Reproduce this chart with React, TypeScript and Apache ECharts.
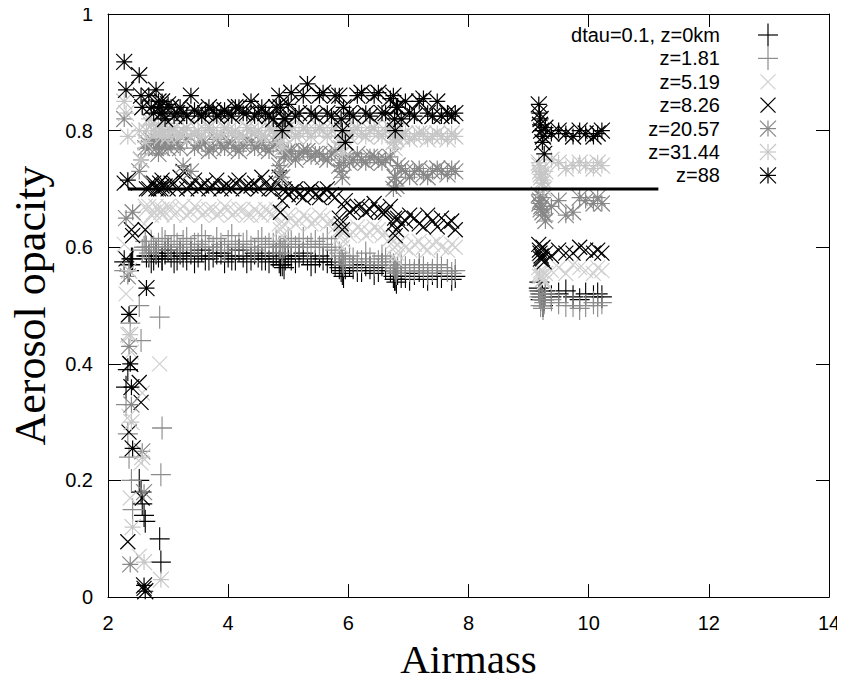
import React, { useEffect, useRef } from "react";
import * as echarts from "echarts";

// Shared airmass of each observation: low-airmass group, first main run, late group,
// second main run, second late group
const airmass = [
  2.27, 2.30, 2.33, 2.35, 2.37, 2.39, 2.41, 2.52, 2.55, 2.57, 2.60, 2.62, 2.64, 2.86, 2.88, 2.90,
  2.68, 2.76, 2.84, 2.95, 3.05, 3.15, 3.25, 3.38, 3.50, 3.62, 3.75, 3.88, 4.00, 4.12, 4.25,
  4.38, 4.50, 4.62, 4.75, 4.85, 4.90, 4.95, 5.05, 5.18, 5.32, 5.45, 5.58, 5.72, 5.85, 5.90,
  5.95, 6.08, 6.22, 6.36, 6.50, 6.62, 6.75, 6.78, 6.82, 6.95, 7.10, 7.25, 7.40, 7.55, 7.78,
  9.17, 9.19, 9.21, 9.23, 9.26, 9.50, 9.74, 9.95, 10.22,
  2.72, 2.80, 2.90, 3.00, 3.10, 3.20, 3.31, 3.44, 3.56, 3.68, 3.81, 3.94, 4.06, 4.18, 4.31,
  4.44, 4.56, 4.68, 4.80, 4.87, 4.93, 5.00, 5.12, 5.25, 5.38, 5.52, 5.65, 5.78, 5.88, 5.92,
  6.02, 6.15, 6.29, 6.43, 6.56, 6.70, 6.77, 6.80, 6.88, 7.02, 7.18, 7.32, 7.48, 7.65, 7.72,
  9.18, 9.20, 9.24, 9.28, 9.38, 9.62, 9.85, 10.08, 10.15,
];

const tauZ0 = [
  0.575, 0.36, 0.39, 0.56, 0.57, 0.58, 0.58, 0.20, 0.18, 0.16, 0.14, 0.13, 0.585, 0.10, 0.06, 0.58,
  0.585, 0.58, 0.585, 0.59, 0.585, 0.58, 0.585, 0.59, 0.585, 0.58, 0.585, 0.59, 0.585, 0.58, 0.585,
  0.58, 0.585, 0.58, 0.585, 0.575, 0.57, 0.58, 0.58, 0.585, 0.58, 0.575, 0.58, 0.575, 0.565, 0.555,
  0.565, 0.565, 0.56, 0.565, 0.56, 0.565, 0.55, 0.545, 0.555, 0.55, 0.555, 0.55, 0.555, 0.55, 0.55,
  0.53, 0.525, 0.52, 0.515, 0.51, 0.52, 0.515, 0.52, 0.515,
  0.575, 0.59, 0.58, 0.595, 0.575, 0.59, 0.58, 0.575, 0.595, 0.58, 0.59, 0.575, 0.58, 0.595, 0.575,
  0.59, 0.58, 0.575, 0.59, 0.57, 0.565, 0.585, 0.575, 0.59, 0.57, 0.585, 0.575, 0.57, 0.56, 0.55,
  0.57, 0.56, 0.57, 0.555, 0.57, 0.56, 0.545, 0.54, 0.55, 0.545, 0.56, 0.545, 0.55, 0.56, 0.545,
  0.54, 0.51, 0.50, 0.525, 0.515, 0.525, 0.51, 0.515, 0.52,
];
const tauZ181 = [
  0.56, 0.33, 0.28, 0.24, 0.47, 0.20, 0.15, 0.50, 0.44, 0.595, 0.60, 0.61, 0.60, 0.48, 0.21, 0.29,
  0.59, 0.60, 0.605, 0.61, 0.60, 0.605, 0.61, 0.60, 0.605, 0.61, 0.60, 0.605, 0.61, 0.60, 0.605,
  0.60, 0.61, 0.60, 0.605, 0.60, 0.59, 0.605, 0.61, 0.605, 0.60, 0.61, 0.605, 0.60, 0.59, 0.575,
  0.58, 0.58, 0.575, 0.58, 0.575, 0.58, 0.57, 0.56, 0.565, 0.565, 0.56, 0.565, 0.56, 0.565, 0.56,
  0.525, 0.52, 0.515, 0.51, 0.505, 0.505, 0.50, 0.50, 0.505,
  0.61, 0.595, 0.615, 0.60, 0.62, 0.595, 0.615, 0.605, 0.62, 0.60, 0.615, 0.595, 0.62, 0.605, 0.61,
  0.595, 0.615, 0.605, 0.61, 0.60, 0.60, 0.615, 0.60, 0.615, 0.605, 0.60, 0.615, 0.595, 0.585, 0.57,
  0.585, 0.575, 0.59, 0.57, 0.585, 0.575, 0.565, 0.555, 0.57, 0.56, 0.57, 0.555, 0.57, 0.56, 0.555,
  0.515, 0.50, 0.495, 0.52, 0.51, 0.50, 0.495, 0.505, 0.50,
];
const tauZ519 = [
  0.605, 0.52, 0.45, 0.31, 0.17, 0.42, 0.66, 0.07, 0.23, 0.35, 0.64, 0.67, 0.665, 0.40, 0.66, 0.665,
  0.67, 0.66, 0.665, 0.66, 0.665, 0.66, 0.67, 0.66, 0.665, 0.66, 0.665, 0.66, 0.665, 0.66, 0.665,
  0.655, 0.66, 0.665, 0.655, 0.64, 0.62, 0.65, 0.65, 0.645, 0.65, 0.645, 0.65, 0.645, 0.63, 0.60,
  0.63, 0.625, 0.63, 0.625, 0.63, 0.625, 0.61, 0.58, 0.605, 0.60, 0.605, 0.60, 0.605, 0.60, 0.60,
  0.565, 0.555, 0.55, 0.545, 0.54, 0.565, 0.57, 0.56, 0.56,
  0.655, 0.67, 0.655, 0.67, 0.655, 0.665, 0.655, 0.67, 0.655, 0.665, 0.655, 0.67, 0.655, 0.665, 0.655,
  0.665, 0.655, 0.66, 0.665, 0.63, 0.64, 0.655, 0.64, 0.655, 0.64, 0.655, 0.64, 0.635, 0.62, 0.61,
  0.62, 0.635, 0.62, 0.635, 0.62, 0.615, 0.60, 0.59, 0.61, 0.595, 0.61, 0.595, 0.61, 0.595, 0.605,
  0.55, 0.56, 0.545, 0.555, 0.56, 0.555, 0.565, 0.555, 0.565,
];
const tauZ826 = [
  0.71, 0.58, 0.095, 0.283, 0.40, 0.63, 0.62, 0.368, 0.334, 0.17, 0.015, 0.63, 0.70, 0.71, 0.70, 0.705,
  0.70, 0.71, 0.70, 0.705, 0.71, 0.70, 0.73, 0.705, 0.70, 0.71, 0.705, 0.70, 0.705, 0.71, 0.70,
  0.705, 0.70, 0.71, 0.70, 0.72, 0.68, 0.695, 0.695, 0.69, 0.695, 0.69, 0.695, 0.69, 0.65, 0.63,
  0.68, 0.665, 0.67, 0.665, 0.665, 0.66, 0.64, 0.62, 0.65, 0.645, 0.65, 0.635, 0.645, 0.65, 0.63,
  0.605, 0.59, 0.585, 0.58, 0.575, 0.595, 0.59, 0.595, 0.59,
  0.71, 0.70, 0.715, 0.70, 0.71, 0.72, 0.70, 0.715, 0.705, 0.70, 0.715, 0.705, 0.70, 0.715, 0.705,
  0.71, 0.72, 0.70, 0.71, 0.66, 0.70, 0.69, 0.70, 0.685, 0.70, 0.685, 0.70, 0.685, 0.64, 0.67,
  0.66, 0.67, 0.66, 0.675, 0.66, 0.67, 0.65, 0.63, 0.64, 0.655, 0.64, 0.655, 0.635, 0.64, 0.645,
  0.595, 0.58, 0.60, 0.59, 0.585, 0.59, 0.60, 0.59, 0.595,
];
const tauZ2057 = [
  0.82, 0.65, 0.55, 0.43, 0.056, 0.33, 0.66, 0.73, 0.75, 0.25, 0.18, 0.77, 0.78, 0.78, 0.79, 0.77,
  0.77, 0.78, 0.76, 0.78, 0.775, 0.78, 0.74, 0.73, 0.775, 0.78, 0.77, 0.775, 0.78, 0.77, 0.775,
  0.78, 0.775, 0.77, 0.775, 0.74, 0.72, 0.76, 0.765, 0.76, 0.765, 0.76, 0.755, 0.76, 0.74, 0.72,
  0.755, 0.75, 0.75, 0.755, 0.75, 0.75, 0.70, 0.72, 0.74, 0.73, 0.73, 0.725, 0.73, 0.73, 0.73,
  0.69, 0.68, 0.67, 0.66, 0.655, 0.68, 0.66, 0.68, 0.675,
  0.785, 0.77, 0.785, 0.77, 0.78, 0.77, 0.785, 0.77, 0.78, 0.765, 0.785, 0.77, 0.78, 0.765, 0.785,
  0.77, 0.78, 0.765, 0.78, 0.73, 0.755, 0.765, 0.75, 0.765, 0.755, 0.76, 0.75, 0.765, 0.73, 0.745,
  0.745, 0.76, 0.745, 0.755, 0.745, 0.755, 0.72, 0.705, 0.735, 0.72, 0.735, 0.72, 0.735, 0.725, 0.735,
  0.675, 0.665, 0.685, 0.645, 0.67, 0.655, 0.685, 0.675, 0.685,
];
const tauZ3144 = [
  0.85, 0.83, 0.79, 0.56, 0.45, 0.30, 0.12, 0.80, 0.75, 0.24, 0.06, 0.78, 0.80, 0.80, 0.03, 0.79,
  0.82, 0.80, 0.81, 0.80, 0.80, 0.795, 0.80, 0.79, 0.80, 0.80, 0.80, 0.795, 0.80, 0.80, 0.79,
  0.80, 0.80, 0.79, 0.80, 0.80, 0.77, 0.80, 0.80, 0.795, 0.80, 0.80, 0.80, 0.80, 0.78, 0.76,
  0.80, 0.80, 0.795, 0.80, 0.795, 0.80, 0.78, 0.79, 0.80, 0.795, 0.79, 0.795, 0.79, 0.79, 0.79,
  0.745, 0.73, 0.72, 0.71, 0.70, 0.745, 0.74, 0.74, 0.74,
  0.81, 0.795, 0.80, 0.79, 0.805, 0.79, 0.805, 0.795, 0.79, 0.805, 0.79, 0.805, 0.795, 0.79, 0.805,
  0.795, 0.79, 0.805, 0.795, 0.78, 0.79, 0.805, 0.79, 0.805, 0.79, 0.805, 0.79, 0.805, 0.77, 0.79,
  0.79, 0.805, 0.79, 0.805, 0.79, 0.805, 0.77, 0.785, 0.79, 0.785, 0.795, 0.785, 0.795, 0.785, 0.795,
  0.74, 0.725, 0.715, 0.73, 0.75, 0.735, 0.745, 0.735, 0.745,
];
const tauZ88 = [
  0.918, 0.87, 0.715, 0.485, 0.40, 0.36, 0.255, 0.895, 0.86, 0.84, 0.02, 0.01, 0.53, 0.84, 0.83, 0.85,
  0.86, 0.83, 0.85, 0.82, 0.84, 0.83, 0.83, 0.86, 0.83, 0.83, 0.835, 0.83, 0.83, 0.84, 0.83,
  0.85, 0.83, 0.83, 0.82, 0.86, 0.80, 0.82, 0.865, 0.83, 0.88, 0.825, 0.865, 0.825, 0.86, 0.80,
  0.78, 0.825, 0.865, 0.825, 0.865, 0.83, 0.86, 0.80, 0.84, 0.85, 0.825, 0.855, 0.825, 0.825, 0.83,
  0.845, 0.81, 0.80, 0.78, 0.76, 0.80, 0.79, 0.795, 0.80,
  0.84, 0.87, 0.83, 0.845, 0.825, 0.84, 0.825, 0.835, 0.825, 0.84, 0.825, 0.835, 0.825, 0.84, 0.83,
  0.825, 0.84, 0.825, 0.84, 0.84, 0.82, 0.845, 0.825, 0.86, 0.83, 0.86, 0.83, 0.86, 0.82, 0.84,
  0.83, 0.86, 0.83, 0.86, 0.83, 0.855, 0.82, 0.84, 0.82, 0.83, 0.85, 0.83, 0.85, 0.83, 0.825,
  0.83, 0.82, 0.79, 0.805, 0.795, 0.795, 0.80, 0.79, 0.795,
];

const seriesNames = ["dtau=0.1, z=0km", "z=1.81", "z=5.19", "z=8.26", "z=20.57", "z=31.44", "z=88"];
const seriesValues = [tauZ0, tauZ181, tauZ519, tauZ826, tauZ2057, tauZ3144, tauZ88];
const seriesColors = ["#000000", "#8c8c8c", "#d0d0d0", "#000000", "#888888", "#c6c6c6", "#000000"];
const seriesMarkers = ["plus", "plus", "cross", "cross", "star", "star", "star"];

// Reference level line
const refLineX = [2.33, 11.16];
const refLineY = 0.7;

const xMin = 2, xMax = 14, xStep = 2;
const yMin = 0, yMax = 1, yStep = 0.2;

const markerPath: Record<string, string> = {
  plus: "path://M0,5L10,5M5,0L5,10",
  cross: "path://M0,0L10,10M10,0L0,10",
  star: "path://M0,5L10,5M5,0L5,10M0,0L10,10M10,0L0,10",
};
const markerSize: Record<string, number[]> = {
  plus: [20, 23],
  cross: [15, 15],
  star: [16, 16],
};
const markerStroke = 1.2;

function legendGlyph(kind: string, cx: number, cy: number, color: string) {
  const [w, h] = markerSize[kind];
  const hw = w / 2, hh = h / 2;
  const st = { stroke: color, lineWidth: markerStroke };
  const out: any[] = [];
  if (kind === "plus" || kind === "star") {
    out.push({ type: "line", shape: { x1: cx - hw, y1: cy, x2: cx + hw, y2: cy }, style: st });
    out.push({ type: "line", shape: { x1: cx, y1: cy - hh, x2: cx, y2: cy + hh }, style: st });
  }
  if (kind === "cross" || kind === "star") {
    out.push({ type: "line", shape: { x1: cx - hw, y1: cy - hh, x2: cx + hw, y2: cy + hh }, style: st });
    out.push({ type: "line", shape: { x1: cx - hw, y1: cy + hh, x2: cx + hw, y2: cy - hh }, style: st });
  }
  return out;
}

export default function App() {
  const ref = useRef<HTMLDivElement>(null);
  useEffect(() => {
    if (!ref.current) return;
    const chart = echarts.init(ref.current, null, { renderer: "svg" });
    const labelFont = { fontFamily: "'Liberation Sans', Arial, sans-serif", fontSize: 20, color: "#000" };
    const axisCommon = {
      splitLine: { show: false },
      axisLine: { show: true, onZero: false, lineStyle: { color: "#000", width: 1 } },
      axisTick: { show: true, inside: true, length: 13, lineStyle: { color: "#000", width: 1 } },
    };
    const scatterSeries = seriesNames.map((name, i) => ({
      name,
      type: "scatter",
      symbol: markerPath[seriesMarkers[i]],
      symbolSize: markerSize[seriesMarkers[i]],
      itemStyle: { color: "transparent", borderColor: seriesColors[i], borderWidth: markerStroke, opacity: 1 },
      emphasis: { disabled: true },
      data: airmass.map((x, j) => [x, seriesValues[i][j]]),
    }));
    const legendTop = 35, legendStep = 23.4;
    const graphics: any[] = [];
    seriesNames.forEach((name, i) => {
      const cy = legendTop + i * legendStep;
      graphics.push({
        type: "text", x: 720, y: cy,
        style: { text: name, align: "right", verticalAlign: "middle", font: "20px 'Liberation Sans', Arial, sans-serif", fill: "#000" },
      });
      graphics.push(...legendGlyph(seriesMarkers[i], 768, cy, seriesColors[i]));
    });
    chart.setOption({
      animation: false,
      backgroundColor: "#fff",
      grid: { left: 108, right: 16, top: 14, bottom: 82, containLabel: false },
      xAxis: [
        {
          ...axisCommon, type: "value", position: "bottom", min: xMin, max: xMax, interval: xStep,
          name: "Airmass", nameLocation: "middle", nameGap: 37,
          nameTextStyle: { fontFamily: "'Liberation Serif', 'Times New Roman', serif", fontSize: 41, color: "#000" },
          axisLabel: { ...labelFont, margin: 16 },
        },
        {
          ...axisCommon, type: "value", position: "top", min: xMin, max: xMax, interval: xStep,
          axisLabel: { show: false },
        },
      ],
      yAxis: [
        {
          ...axisCommon, type: "value", position: "left", min: yMin, max: yMax, interval: yStep,
          name: "Aerosol opacity", nameLocation: "middle", nameGap: 56, nameRotate: 90,
          nameTextStyle: { fontFamily: "'Liberation Serif', 'Times New Roman', serif", fontSize: 44, color: "#000" },
          axisLabel: { ...labelFont, margin: 15, formatter: (v: number) => String(Math.round(v * 10) / 10) },
        },
        {
          ...axisCommon, type: "value", position: "right", min: yMin, max: yMax, interval: yStep,
          axisLabel: { show: false },
        },
      ],
      series: [
        ...scatterSeries,
        {
          type: "line",
          name: "level",
          data: refLineX.map((x) => [x, refLineY]),
          symbol: "none",
          lineStyle: { color: "#000", width: 3 },
          silent: true,
        },
      ],
      graphic: graphics,
    });
    return () => chart.dispose();
  }, []);
  return <div ref={ref} style={{ width: 845, height: 684, margin: -8 }} />;
}
